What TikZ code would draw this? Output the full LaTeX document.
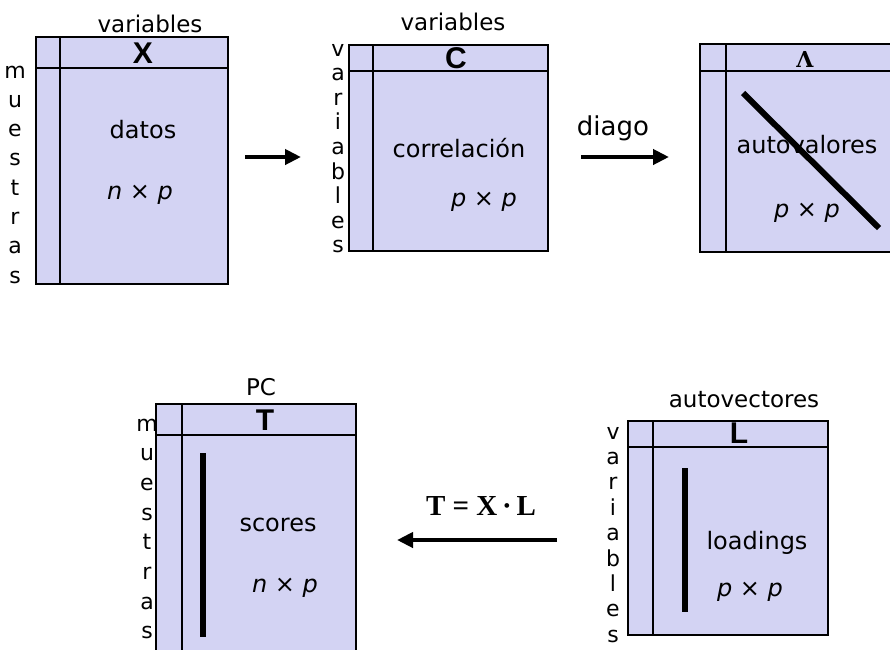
\documentclass[tikz,border=0pt]{standalone}
\usepackage{fontspec}
\setmainfont{DejaVu Sans}
\newfontfamily\hdrfont{Liberation Sans}
\newfontfamily\serfont{Liberation Serif}
\newfontfamily\grkfont{DejaVu Serif}
\usetikzlibrary{arrows.meta}
\definecolor{boxfill}{RGB}{211,211,243}
\begin{document}
\begin{tikzpicture}[x=1pt,y=-1pt,
  mbox/.style={draw=black, line width=1.5pt, fill=boxfill, rectangle, inner sep=0pt},
  cell/.style={line width=1.5pt},
  bar/.style={line width=6pt},
  flow/.style={line width=4pt, -{Triangle[length=16pt,width=15pt]}},
  lbl/.style={font=\fontsize{23}{26}\selectfont, inner sep=0pt},
  body/.style={font=\fontsize{24}{28}\selectfont, inner sep=0pt},
  vlet/.style={font=\fontsize{22}{24}\selectfont, inner sep=0pt, anchor=base},
  hdr/.style={font=\hdrfont\bfseries\fontsize{30}{32}\selectfont, inner sep=0pt}
]
\useasboundingbox (0,0) rectangle (890,649);
\clip (0,0) rectangle (890,649);

% ---------- box X ----------
\node[mbox, minimum width=192pt, minimum height=247pt] (boxX) at (132,160.5) {};
\draw[cell] (36,68) -- (228,68);
\draw[cell] (60,37) -- (60,284);
\node[lbl] (varX) at (150,24) {variables};
\node[hdr] (hX) at (143,53) {X};
\node[body] (datos) at (143,130) {datos};
\node[body] (dimX) at (140,195) {\textit{n} × \textit{p}};
\foreach \ch [count=\i] in {m,u,e,s,t,r,a,s}
  \node[vlet] (sX\i) at (15,{78+29.3*(\i-1)}) {\ch};

% ---------- box C ----------
\node[mbox, minimum width=199pt, minimum height=206pt] (boxC) at (448.5,148) {};
\draw[cell] (349,71) -- (548,71);
\draw[cell] (373,45) -- (373,251);
\node[lbl] (varC) at (453,22) {variables};
\node[hdr] (hC) at (456,58) {C};
\node[body] (corr) at (459,148) {correlación};
\node[body] (dimC) at (484,202) {\textit{p} × \textit{p}};
\foreach \ch [count=\i] in {v,a,r,i,a,b,l,e,s}
  \node[vlet] (sC\i) at (338,{56+24.6*(\i-1)}) {\ch};

% ---------- box Lambda ----------
\node[mbox, minimum width=194pt, minimum height=208pt] (boxA) at (797,148) {};
\draw[cell] (700,71) -- (894,71);
\draw[cell] (726,44) -- (726,252);
\node[font=\grkfont\bfseries\fontsize{22}{26}\selectfont, inner sep=0pt] (hA) at (805,59) {Λ};
\node[body] (autoval) at (807,145) {autovalores};
\node[body] (dimA) at (807,213) {\textit{p} × \textit{p}};
\draw[bar] (743,93) -- (879,228);

% ---------- box T ----------
\node[mbox, minimum width=200pt, minimum height=256pt] (boxT) at (256,532) {};
\draw[cell] (156,435) -- (356,435);
\draw[cell] (182,404) -- (182,660);
\node[lbl] (pc) at (261,387) {PC};
\node[hdr] (hT) at (265,420) {T};
\node[body] (scores) at (278,525) {scores};
\node[body] (dimT) at (285,588) {\textit{n} × \textit{p}};
\draw[bar] (203,453) -- (203,637);
\foreach \ch [count=\i] in {m,u,e,s,t,r,a,s}
  \node[vlet] (sT\i) at (147,{431+29.7*(\i-1)}) {\ch};

% ---------- box L ----------
\node[mbox, minimum width=200pt, minimum height=214pt] (boxL) at (728,528) {};
\draw[cell] (628,447) -- (828,447);
\draw[cell] (653,421) -- (653,635);
\node[lbl] (autovec) at (744,400) {autovectores};
\node[hdr] (hL) at (739,433) {L};
\node[body] (load) at (757,543) {loadings};
\node[body] (dimL) at (750,592) {\textit{p} × \textit{p}};
\draw[bar] (685,468) -- (685,612);
\foreach \ch [count=\i] in {v,a,r,i,a,b,l,e,s}
  \node[vlet] (sL\i) at (613,{439+25.4*(\i-1)}) {\ch};

% ---------- arrows ----------
\coordinate (a1s) at (245,157);
\coordinate (a1e) at (301,157);
\draw[flow] (a1s) -- (a1e);

\coordinate (a2s) at (581,157);
\coordinate (a2e) at (669,157);
\draw[flow] (a2s) -- (a2e);
\node[font=\fontsize{26}{30}\selectfont, inner sep=0pt] (diago) at (613,128) {diago};

\coordinate (a3s) at (557,540);
\coordinate (a3e) at (397,540);
\draw[flow] (a3s) -- (a3e);
\node[font=\serfont\bfseries\fontsize{29}{32}\selectfont, inner sep=0pt] (eq) at (481,506) {T = X\,·\,L};
\end{tikzpicture}
\end{document}
